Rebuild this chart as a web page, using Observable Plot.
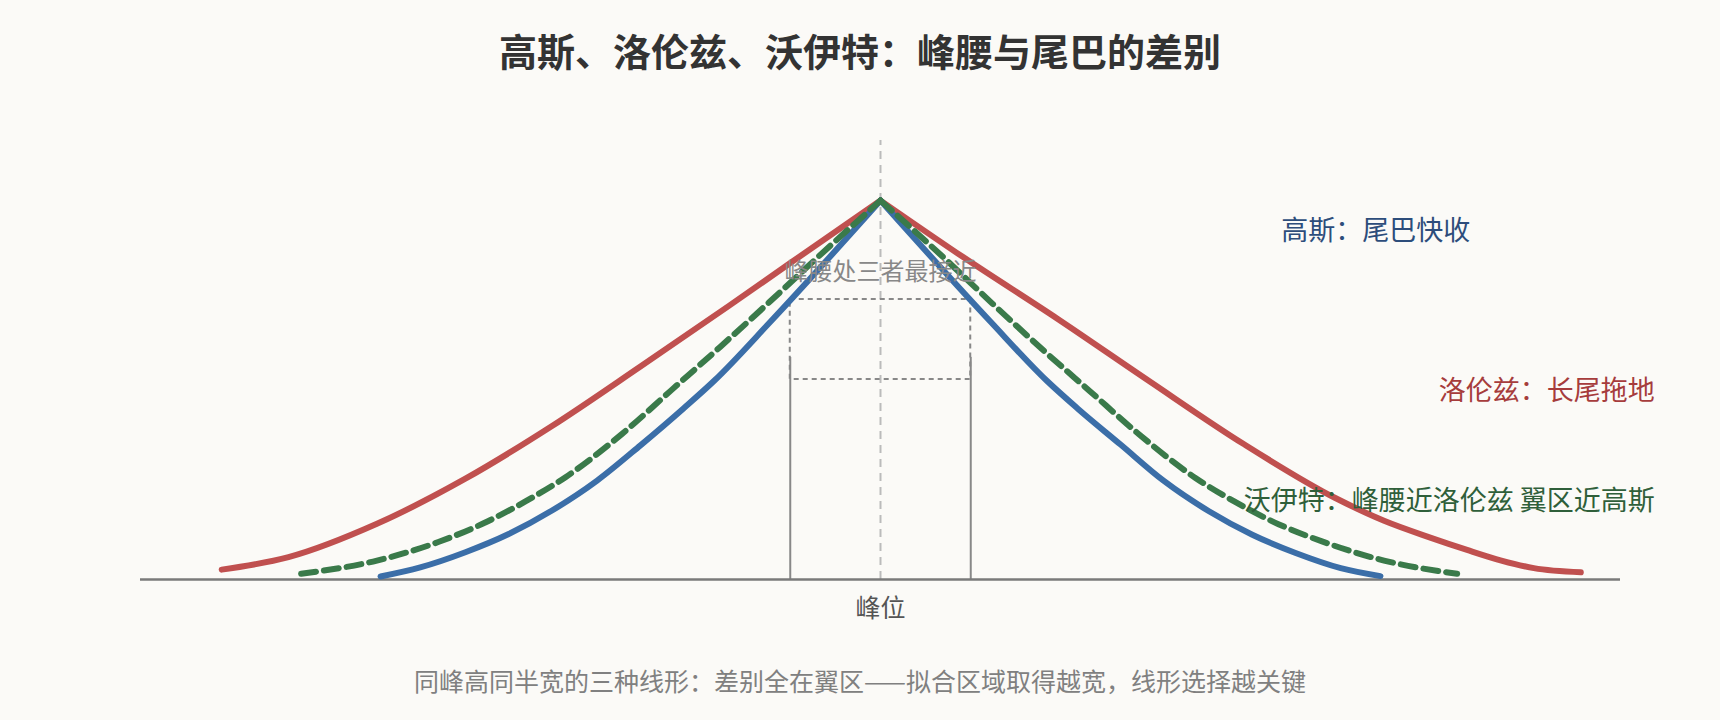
<!DOCTYPE html>
<html>
<head>
<meta charset="utf-8">
<script src="https://cdn.jsdelivr.net/npm/d3@7"></script>
<script src="https://cdn.jsdelivr.net/npm/@observablehq/plot@0.6"></script>
<style>
  html, body { margin: 0; padding: 0; }
  body { background: #fbfaf7; width: 1720px; height: 720px; overflow: hidden;
         font-family: "Noto Sans CJK SC", "Noto Sans", sans-serif; }
  #title { height: 100px; line-height: 100px; text-align: center; font-size: 38px;
           font-weight: 700; color: #333; }
  #chart { height: 560px; }
  #caption { height: 60px; line-height: 40px; text-align: center; font-size: 25px; color: #808080; }
</style>
</head>
<body>
<div id="title">高斯、洛伦兹、沃伊特：峰腰与尾巴的差别</div>
<div id="chart"></div>
<div id="caption">同峰高同半宽的三种线形：差别全在翼区——拟合区域取得越宽，线形选择越关键</div>
<script>
// Gaussian (blue)
const gaussX = [-2.77, -2.55, -2.30, -2.06, -1.82, -1.57, -1.33, -1.09, -0.92, -0.61, 0, 0.61, 0.92, 1.09, 1.33, 1.57, 1.82, 2.06, 2.30, 2.55, 2.77];
const gaussY = [0.008, 0.032, 0.072, 0.12, 0.182, 0.261, 0.354, 0.452, 0.525, 0.68, 1, 0.68, 0.525, 0.452, 0.356, 0.26, 0.18, 0.118, 0.07, 0.03, 0.009];
// Lorentzian (red)
const lorX = [-3.65, -3.28, -2.79, -2.30, -1.82, -1.33, -0.84, -0.50, 0, 0.46, 0.98, 1.49, 2.01, 2.52, 2.79, 3.05, 3.25, 3.44, 3.62, 3.88];
const lorY = [0.026, 0.059, 0.147, 0.266, 0.405, 0.562, 0.722, 0.835, 1, 0.85, 0.688, 0.523, 0.358, 0.215, 0.155, 0.11, 0.078, 0.05, 0.03, 0.019];
// Voigt (green, dashed)
const voigtX = [-3.21, -2.79, -2.45, -2.205, -1.96, -1.745, -1.43, -1.16, -0.89, -0.62, -0.36, 0, 0.36, 0.62, 0.89, 1.16, 1.43, 1.745, 1.96, 2.205, 2.45, 2.79, 3.195];
const voigtY = [0.015, 0.050, 0.099, 0.147, 0.208, 0.27, 0.385, 0.499, 0.613, 0.73, 0.845, 1, 0.845, 0.728, 0.61, 0.497, 0.384, 0.268, 0.206, 0.146, 0.1, 0.05, 0.015];

// peak-waist annotation box
const waistX = [-0.5, 0.5];
const waistY = [0.528, 0.739];
const waistRuleTop = 0.586;
const centerRuleTop = 1.158;

const tickLabels = ["峰位"];
const labelTexts = ["高斯：尾巴快收", "洛伦兹：长尾拖地", "沃伊特：峰腰近洛伦兹 翼区近高斯"];
const peakNote = "峰腰处三者最接近";

function halves(xs, ys) {
  const p = ys.indexOf(d3.max(ys));
  const out = [];
  xs.forEach((x, i) => {
    if (i <= p) out.push({x, y: ys[i], side: "L"});
    if (i >= p) out.push({x, y: ys[i], side: "R"});
  });
  return out;
}

const chart = Plot.plot({
  width: 1720,
  height: 560,
  marginLeft: 140,
  marginRight: 100,
  marginTop: 100,
  marginBottom: 81,
  style: { background: "transparent", fontFamily: "'Noto Sans CJK SC', sans-serif", fontSize: "25px", color: "#555", overflow: "visible" },
  x: { domain: [-4.1, 4.1], ticks: [0], tickFormat: () => tickLabels[0], tickSize: 0, tickPadding: 20, label: null },
  y: { domain: [0, 1], axis: null },
  marks: [
    Plot.ruleX([0], { y1: 0, y2: centerRuleTop, stroke: "#bbb", strokeWidth: 2, strokeDasharray: "8,6" }),
    Plot.rect([0], { x1: waistX[0], x2: waistX[1], y1: waistY[0], y2: waistY[1], fill: "none", stroke: "#888", strokeWidth: 2, strokeDasharray: "5,4" }),
    Plot.ruleX(waistX, { y1: 0, y2: waistRuleTop, stroke: "#888", strokeWidth: 2 }),
    Plot.ruleY([0], { stroke: "#7a7a7a", strokeWidth: 2.5 }),
    Plot.line(halves(lorX, lorY), { x: "x", y: "y", z: "side", stroke: "#c0504f", strokeWidth: 6, curve: "monotone-x" }),
    Plot.line(halves(gaussX, gaussY), { x: "x", y: "y", z: "side", stroke: "#3b6ea8", strokeWidth: 6, curve: "monotone-x" }),
    Plot.line(halves(voigtX, voigtY), { x: "x", y: "y", z: "side", stroke: "#3a7a4a", strokeWidth: 6, strokeDasharray: "15,8", curve: "monotone-x" }),
    Plot.text([peakNote], { x: 0, y: 0.81, text: d => d, fill: "#888", fontSize: 24, textAnchor: "middle" }),
    Plot.text([labelTexts[0]], { x: 2.22, y: 0.919, text: d => d, fill: "#2d4d7b", fontSize: 27, textAnchor: "start" }),
    Plot.text([labelTexts[1]], { x: 4.29, y: 0.497, text: d => d, fill: "#a63c3c", fontSize: 27, textAnchor: "end" }),
    Plot.text([labelTexts[2]], { x: 4.29, y: 0.207, text: d => d, fill: "#2f5f3a", fontSize: 27, textAnchor: "end" })
  ]
});
document.getElementById("chart").appendChild(chart);
</script>
</body>
</html>
